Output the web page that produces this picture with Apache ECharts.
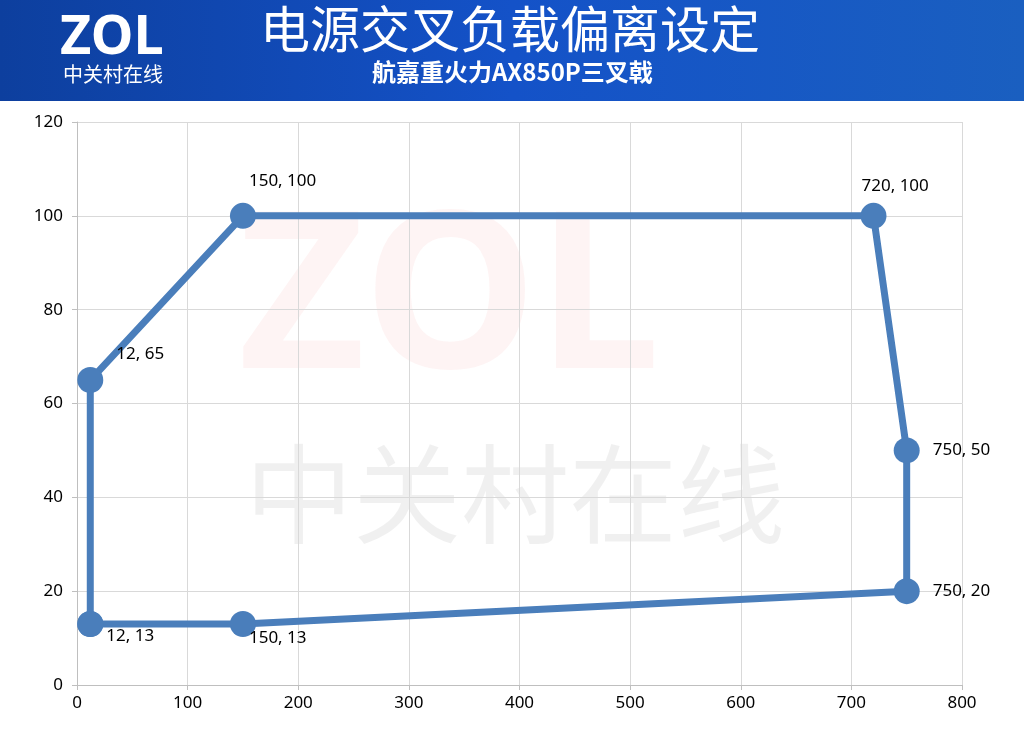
<!DOCTYPE html>
<html><head><meta charset="utf-8">
<script src="https://cdn.jsdelivr.net/npm/echarts@6/dist/echarts.min.js"></script>
<style>html,body{margin:0;padding:0;background:#fff}#c{width:1024px;height:753px}</style>
</head><body><div id="c"></div>
<script>
const xs = [12, 12, 150, 720, 750, 750, 150, 12];
const ys = [13, 65, 100, 100, 50, 20, 13, 13];
const labelPos = [[-2,12],[8,-26],[-12,-35],[-30,-30],[8,0],[8,0],[-12,14],null];
const title = '电源交叉负载偏离设定';
const subtitle = '航嘉重火力AX850P三叉戟';

const data = xs.map((x,i)=>{
  const p = labelPos[i];
  return {value:[x,ys[i]], label: p ? {show:true, position:'right', offset:p, formatter: x+', '+ys[i]} : {show:false}};
});
const chart = echarts.init(document.getElementById('c'));
chart.setOption({
  animation:false,
  grid:{left:77,right:62,top:122,bottom:68},
  xAxis:{type:'value',min:0,max:800,interval:100,
    axisLine:{lineStyle:{color:'#bfbfbf'}},axisTick:{show:true,lineStyle:{color:'#bfbfbf'}},
    axisLabel:{color:'#000',fontSize:17,fontFamily:'Noto Sans',margin:10},
    splitLine:{lineStyle:{color:'#d9d9d9'}}},
  yAxis:{type:'value',min:0,max:120,interval:20,
    axisLine:{show:true,lineStyle:{color:'#bfbfbf'}},axisTick:{show:true,lineStyle:{color:'#bfbfbf'}},
    axisLabel:{color:'#000',fontSize:17,fontFamily:'Noto Sans',margin:14},
    splitLine:{lineStyle:{color:'#d9d9d9'}}},
  graphic:[
    {type:'rect',left:0,top:0,shape:{width:1024,height:101},z:-1,
     style:{fill:new echarts.graphic.LinearGradient(0,0,1,0,[{offset:0,color:'#0d3f9e'},{offset:0.5,color:'#1452c8'},{offset:1,color:'#1a5fc0'}])}},
    {type:'text',left:60,top:12,style:{text:'ZOL',fill:'#fff',font:'bold 54px "Noto Sans"'}},
    {type:'text',left:63,top:64,style:{text:'中关村在线',fill:'#fff',font:'20px "Noto Sans CJK SC"'}},
    {type:'text',left:260,top:4,style:{text:title,fill:'#fff',font:'50px "Noto Sans CJK SC"',shadowColor:'rgba(0,0,0,0.6)',shadowBlur:3,shadowOffsetX:2,shadowOffsetY:2}},
    {type:'text',left:372,top:60,style:{text:subtitle,fill:'#fff',font:'bold 24px "Noto Sans CJK SC"'}},
    {type:'text',left:238,top:195,z:-2,style:{text:'ZOL',fill:'rgba(230,60,60,0.06)',font:'bold 220px "Noto Sans"'}},
    {type:'text',left:245,top:440,z:-2,style:{text:'中关村在线',fill:'rgba(0,0,0,0.06)',font:'108px "Noto Sans CJK SC"'}}
  ],
  series:[{type:'line',data:data,symbol:'circle',symbolSize:26,
    lineStyle:{color:'#4a7ebb',width:7},itemStyle:{color:'#4a7ebb'},
    label:{color:'#000',fontSize:17,fontFamily:'Noto Sans'}}]
});
</script></body></html>
